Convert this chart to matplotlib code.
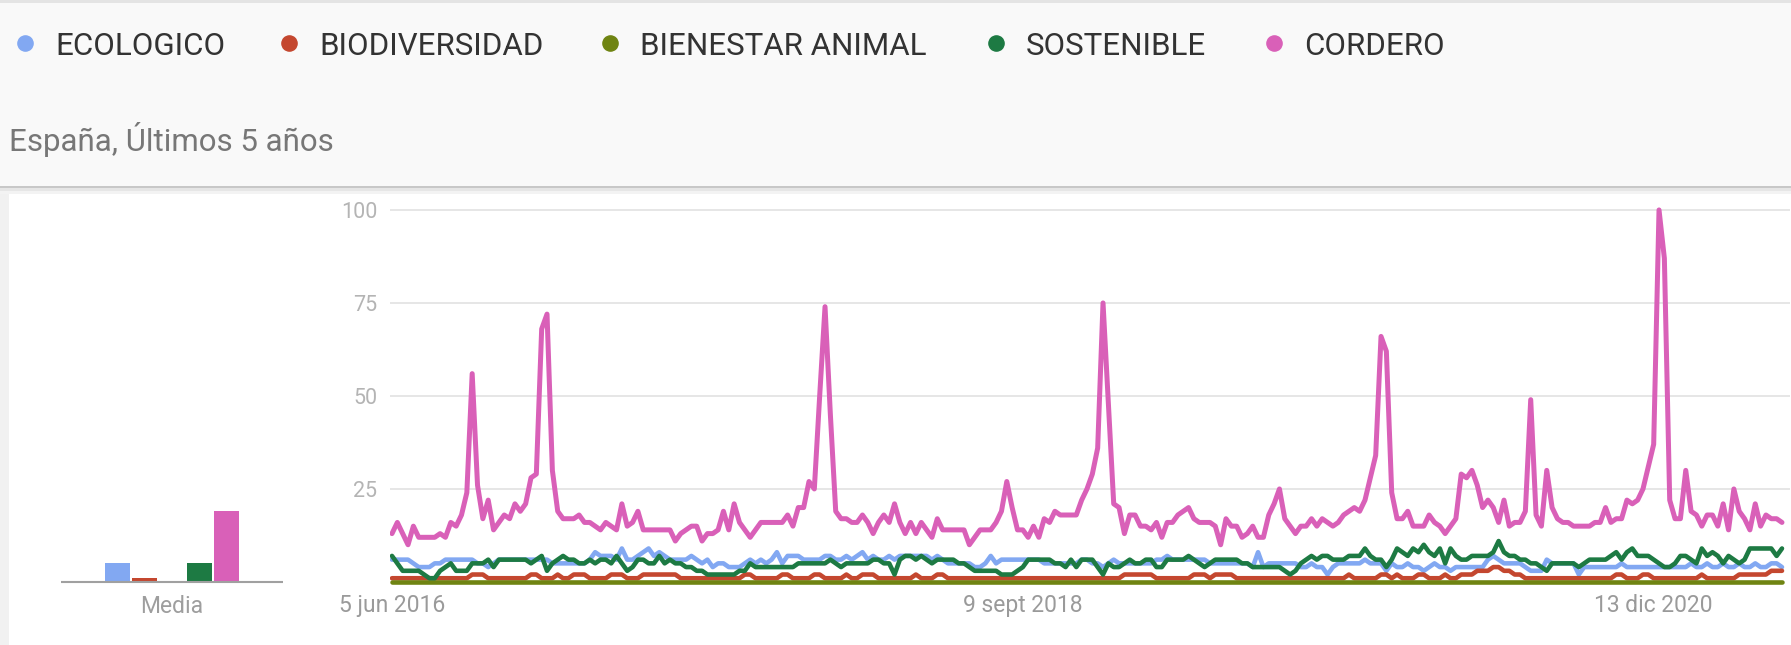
import matplotlib
matplotlib.use('Agg')
import matplotlib.pyplot as plt
import matplotlib.dates as mdates
from matplotlib.patches import Rectangle
import pandas as pd

plt.rcParams['font.family'] = ['Roboto', 'DejaVu Sans']

terms = ['ECOLOGICO', 'BIODIVERSIDAD', 'BIENESTAR ANIMAL', 'SOSTENIBLE', 'CORDERO']
colors = ['#82a8f2', '#c4472f', '#6f8412', '#1d7a43', '#d960b8']
media = [5, 1, 0, 5, 19]
tick_dates = ['2016-06-05', '2018-09-09', '2020-12-13']
tick_labels = ['5 jun 2016', '9 sept 2018', '13 dic 2020']
subtitle = 'España, Últimos 5 años'

# weekly interest values, one row = 10 weeks
ecologico = [
    6, 6, 6, 6, 5, 4, 4, 4, 5, 5,
    6, 6, 6, 6, 6, 6, 5, 5, 4, 5,
    6, 6, 6, 6, 6, 6, 6, 6, 6, 6,
    5, 5, 5, 5, 5, 5, 5, 6, 8, 7,
    7, 7, 6, 9, 6, 6, 7, 8, 9, 7,
    8, 7, 6, 6, 6, 6, 7, 6, 5, 6,
    4, 5, 5, 4, 4, 4, 5, 6, 5, 6,
    5, 6, 8, 5, 7, 7, 7, 6, 6, 6,
    6, 7, 7, 6, 6, 7, 6, 7, 8, 6,
    7, 6, 6, 7, 6, 7, 7, 7, 7, 7,
    7, 6, 7, 6, 5, 5, 5, 5, 5, 4,
    4, 5, 7, 5, 6, 6, 6, 6, 6, 6,
    6, 6, 5, 5, 5, 5, 5, 5, 5, 6,
    6, 5, 5, 4, 5, 6, 5, 5, 5, 5,
    5, 5, 5, 6, 6, 7, 6, 6, 6, 6,
    6, 6, 6, 5, 5, 5, 5, 5, 5, 5,
    5, 4, 8, 4, 5, 5, 5, 5, 5, 5,
    4, 4, 5, 4, 4, 2, 4, 5, 5, 5,
    5, 5, 6, 5, 5, 5, 3, 5, 4, 4,
    5, 4, 4, 3, 4, 5, 4, 4, 3, 4,
    4, 4, 4, 4, 4, 6, 7, 6, 5, 5,
    5, 5, 4, 3, 3, 3, 6, 5, 5, 5,
    5, 5, 2, 4, 4, 4, 4, 4, 4, 4,
    5, 4, 4, 4, 4, 4, 4, 4, 4, 4,
    4, 4, 4, 5, 4, 4, 5, 4, 4, 5,
    4, 4, 5, 4, 4, 5, 4, 4, 5, 5,
    4]

biodiversidad = [
    1, 1, 1, 1, 1, 1, 1, 1, 1, 1,
    1, 1, 1, 1, 1, 2, 2, 2, 1, 1,
    1, 1, 1, 1, 1, 1, 2, 2, 1, 1,
    1, 2, 1, 1, 2, 2, 2, 1, 1, 1,
    1, 2, 2, 2, 1, 1, 1, 2, 2, 2,
    2, 2, 2, 2, 1, 1, 1, 1, 1, 1,
    1, 1, 1, 1, 1, 1, 2, 2, 1, 1,
    1, 1, 1, 2, 2, 1, 1, 1, 1, 2,
    2, 1, 1, 1, 1, 2, 1, 1, 2, 2,
    2, 1, 1, 1, 1, 1, 1, 1, 2, 1,
    1, 1, 2, 2, 1, 1, 1, 1, 1, 1,
    1, 1, 1, 1, 1, 1, 1, 1, 1, 1,
    1, 1, 1, 1, 1, 1, 1, 1, 1, 1,
    1, 1, 1, 1, 1, 1, 1, 2, 2, 2,
    2, 2, 2, 1, 1, 1, 1, 1, 1, 1,
    2, 2, 2, 1, 2, 2, 2, 2, 1, 1,
    1, 1, 1, 1, 1, 1, 1, 1, 1, 1,
    1, 1, 1, 1, 1, 1, 1, 1, 1, 2,
    1, 1, 1, 1, 1, 2, 2, 1, 2, 1,
    1, 1, 2, 2, 1, 1, 1, 2, 1, 1,
    2, 2, 2, 3, 3, 3, 4, 4, 3, 3,
    2, 2, 1, 1, 1, 1, 1, 1, 1, 1,
    1, 1, 1, 1, 1, 1, 1, 1, 1, 2,
    2, 1, 1, 1, 2, 2, 1, 1, 1, 1,
    1, 1, 1, 1, 1, 2, 1, 1, 1, 1,
    1, 1, 2, 2, 2, 2, 2, 2, 3, 3,
    3]

bienestar_animal = [
    0, 0, 0, 0, 0, 0, 0, 0, 0, 0,
    0, 0, 0, 0, 0, 0, 0, 0, 0, 0,
    0, 0, 0, 0, 0, 0, 0, 0, 0, 0,
    0, 0, 0, 0, 0, 0, 0, 0, 0, 0,
    0, 0, 0, 0, 0, 0, 0, 0, 0, 0,
    0, 0, 0, 0, 0, 0, 0, 0, 0, 0,
    0, 0, 0, 0, 0, 0, 0, 0, 0, 0,
    0, 0, 0, 0, 0, 0, 0, 0, 0, 0,
    0, 0, 0, 0, 0, 0, 0, 0, 0, 0,
    0, 0, 0, 0, 0, 0, 0, 0, 0, 0,
    0, 0, 0, 0, 0, 0, 0, 0, 0, 0,
    0, 0, 0, 0, 0, 0, 0, 0, 0, 0,
    0, 0, 0, 0, 0, 0, 0, 0, 0, 0,
    0, 0, 0, 0, 0, 0, 0, 0, 0, 0,
    0, 0, 0, 0, 0, 0, 0, 0, 0, 0,
    0, 0, 0, 0, 0, 0, 0, 0, 0, 0,
    0, 0, 0, 0, 0, 0, 0, 0, 0, 0,
    0, 0, 0, 0, 0, 0, 0, 0, 0, 0,
    0, 0, 0, 0, 0, 0, 0, 0, 0, 0,
    0, 0, 0, 0, 0, 0, 0, 0, 0, 0,
    0, 0, 0, 0, 0, 0, 0, 0, 0, 0,
    0, 0, 0, 0, 0, 0, 0, 0, 0, 0,
    0, 0, 0, 0, 0, 0, 0, 0, 0, 0,
    0, 0, 0, 0, 0, 0, 0, 0, 0, 0,
    0, 0, 0, 0, 0, 0, 0, 0, 0, 0,
    0, 0, 0, 0, 0, 0, 0, 0, 0, 0,
    0]

sostenible = [
    7, 5, 3, 3, 3, 3, 2, 1, 1, 3,
    4, 5, 3, 3, 3, 5, 5, 5, 6, 4,
    6, 6, 6, 6, 6, 6, 5, 6, 7, 3,
    5, 6, 7, 6, 6, 5, 5, 6, 5, 6,
    6, 5, 7, 5, 3, 4, 6, 6, 5, 5,
    7, 5, 6, 5, 5, 4, 4, 3, 3, 2,
    2, 2, 2, 2, 2, 3, 3, 5, 4, 4,
    4, 4, 4, 4, 4, 4, 5, 5, 5, 5,
    5, 5, 6, 5, 4, 5, 5, 5, 5, 5,
    6, 6, 5, 5, 2, 6, 7, 7, 6, 7,
    6, 5, 6, 6, 6, 6, 5, 5, 4, 3,
    3, 3, 3, 3, 2, 2, 2, 3, 4, 6,
    6, 6, 6, 6, 5, 5, 4, 6, 4, 6,
    6, 6, 4, 2, 5, 4, 4, 5, 6, 5,
    5, 6, 6, 4, 4, 6, 6, 6, 6, 7,
    6, 5, 4, 5, 6, 6, 6, 6, 6, 5,
    5, 4, 4, 4, 4, 4, 4, 3, 2, 3,
    5, 6, 7, 6, 7, 7, 6, 6, 6, 7,
    7, 7, 9, 7, 6, 6, 4, 6, 9, 8,
    7, 9, 8, 10, 8, 7, 9, 5, 9, 7,
    6, 6, 7, 7, 7, 7, 8, 11, 8, 7,
    7, 6, 6, 5, 5, 4, 3, 5, 5, 5,
    5, 5, 4, 5, 6, 6, 6, 6, 7, 8,
    6, 8, 9, 7, 7, 7, 6, 5, 4, 4,
    5, 7, 7, 6, 5, 9, 7, 8, 7, 5,
    7, 6, 5, 6, 9, 9, 9, 9, 9, 7,
    9]

cordero = [
    13, 16, 13, 10, 15, 12, 12, 12, 12, 13,
    12, 16, 15, 18, 24, 56, 26, 17, 22, 14,
    16, 18, 17, 21, 19, 21, 28, 29, 68, 72,
    30, 19, 17, 17, 17, 18, 16, 16, 15, 14,
    16, 15, 14, 21, 15, 16, 19, 14, 14, 14,
    14, 14, 14, 11, 13, 14, 15, 15, 11, 13,
    13, 14, 19, 14, 21, 16, 14, 12, 14, 16,
    16, 16, 16, 16, 18, 15, 20, 20, 27, 25,
    50, 74, 45, 19, 17, 17, 16, 16, 18, 16,
    13, 16, 18, 16, 21, 16, 13, 16, 13, 16,
    14, 12, 17, 14, 14, 14, 14, 14, 10, 12,
    14, 14, 14, 16, 19, 27, 20, 14, 14, 12,
    15, 12, 17, 16, 19, 18, 18, 18, 18, 22,
    25, 29, 36, 75, 48, 21, 20, 13, 18, 18,
    15, 15, 14, 16, 12, 16, 16, 18, 19, 20,
    17, 16, 16, 16, 15, 10, 17, 15, 15, 12,
    13, 15, 12, 12, 18, 21, 25, 17, 15, 13,
    15, 15, 17, 15, 17, 16, 15, 16, 18, 19,
    20, 19, 22, 28, 34, 66, 62, 24, 17, 17,
    19, 15, 15, 15, 18, 16, 15, 13, 15, 17,
    29, 28, 30, 26, 20, 22, 20, 16, 22, 15,
    16, 16, 19, 49, 18, 15, 30, 20, 17, 16,
    16, 15, 15, 15, 15, 16, 16, 20, 16, 17,
    17, 22, 21, 22, 25, 31, 37, 100, 87, 22,
    17, 17, 30, 19, 18, 15, 18, 18, 15, 21,
    14, 25, 19, 17, 14, 21, 15, 18, 17, 17,
    16]

series = [ecologico, biodiversidad, bienestar_animal, sostenible, cordero]
line_widths = [3.3, 3.3, 3.3, 3.3, 3.6]
weeks = pd.date_range('2016-06-05', periods=len(cordero), freq='W-SUN')

W, H = 1791, 645
fig = plt.figure(figsize=(W / 100, H / 100), dpi=100)
fig.patch.set_facecolor('white')

# pixel canvas for the header card
bg = fig.add_axes([0, 0, 1, 1])
bg.set_xlim(0, W)
bg.set_ylim(H, 0)
bg.axis('off')
bg.add_patch(Rectangle((0, 0), W, 188, facecolor='#f9f9f9', edgecolor='none'))
bg.add_patch(Rectangle((0, 0), W, 3, facecolor='#e4e4e4', edgecolor='none'))
bg.add_patch(Rectangle((0, 186), W, 2, facecolor='#c8c8c8', edgecolor='none'))
bg.add_patch(Rectangle((0, 188), W, 3, facecolor='#e6e6e6', edgecolor='none'))
bg.add_patch(Rectangle((0, 191), W, 3, facecolor='#f3f3f3', edgecolor='none'))
bg.add_patch(Rectangle((0, 194), 9, H - 194, facecolor='#f1f1f1', edgecolor='none'))

dot_x = [25, 289, 610, 996, 1274]
for x, term, c in zip(dot_x, terms, colors):
    bg.scatter([x], [43], s=120, color=c, zorder=3)
    bg.text(x + 30, 55, term, fontsize=22.5, color='#333333', va='baseline', ha='left')
bg.text(9, 151, subtitle, fontsize=22.5, color='#777777', va='baseline', ha='left')

# main time series
bottom = (H - 589.4) / H
height = 386.9 / H
ax = fig.add_axes([390 / W, bottom, 1400 / W, height])
ax.patch.set_alpha(0)
for vals, c, lw in zip(series, colors, line_widths):
    ax.plot(weeks[:len(vals)], vals, color=c, lw=lw, solid_joinstyle='round',
            solid_capstyle='round')
x0 = mdates.date2num(weeks[0])
ax.set_xlim(x0 - 2.6, x0 + 261.5 * 7)
ax.set_ylim(-2, 102)
ax.set_yticks([25, 50, 75, 100])
ax.yaxis.grid(True, color='#e6e6e6', lw=1.4)
ax.set_axisbelow(True)
ax.set_xticks(pd.to_datetime(tick_dates))
ax.set_xticklabels(tick_labels)
ax.tick_params(axis='y', length=0, pad=9, labelsize=15.5, labelcolor='#b4b4b4')
ax.tick_params(axis='x', length=0, pad=3, labelsize=16.5, labelcolor='#9a9a9a')
for s in ax.spines.values():
    s.set_visible(False)

# average bars
ax2 = fig.add_axes([61 / W, bottom, 222 / W, height])
ax2.patch.set_alpha(0)
ax2.bar(range(len(media)), media, width=0.92, color=colors)
ax2.axhline(0, color='#a0a0a0', lw=1.5)
ax2.set_xlim(-2.07, 6.07)
ax2.set_ylim(-2, 102)
ax2.set_yticks([])
ax2.set_xticks([2])
ax2.set_xticklabels(['Media'])
ax2.tick_params(axis='x', length=0, pad=4, labelsize=16.5, labelcolor='#9e9e9e')
for s in ax2.spines.values():
    s.set_visible(False)

fig.savefig('out.png', dpi=100)
